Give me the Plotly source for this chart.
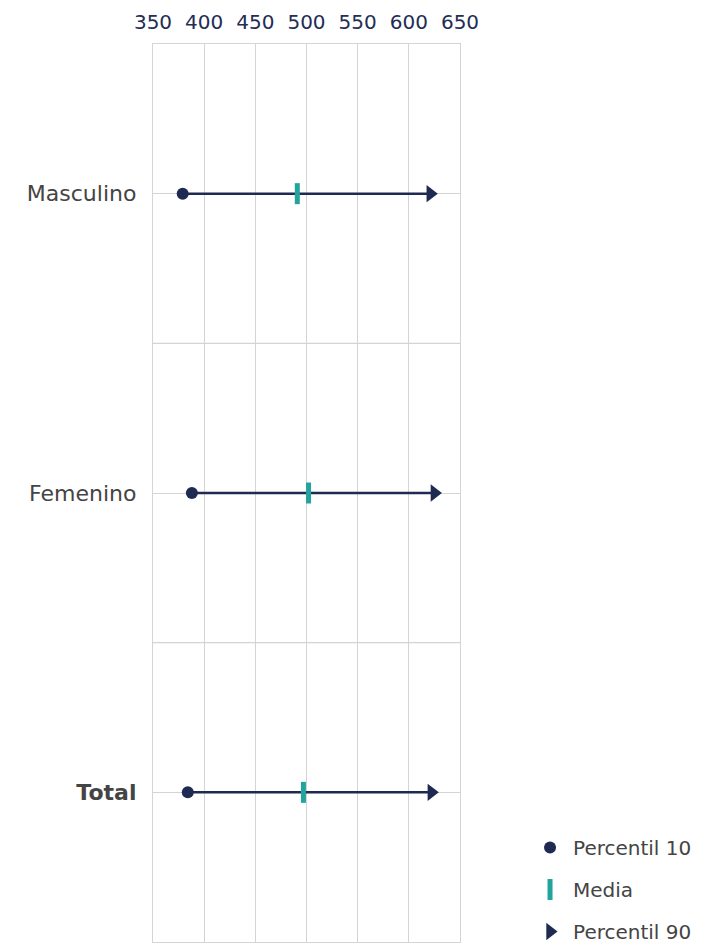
import plotly.graph_objects as go

categories = ["Masculino", "Femenino", "Total"]
tick_labels = ["Masculino", "Femenino", "<b>Total</b>"]
p10 = [379, 388, 384]
media = [491, 502, 497]
p90 = [621, 625, 622]
x_ticks = [350, 400, 450, 500, 550, 600, 650]

NAVY = "#1e2a52"
TEAL = "#22a39e"
GRID = "#d4d4d4"
FONT = "DejaVu Sans"

fig = go.Figure()

# connecting lines
lx, ly = [], []
for c, a, b in zip(categories, p10, p90):
    lx += [a, b, None]
    ly += [c, c, None]
fig.add_trace(go.Scatter(x=lx, y=ly, mode="lines", line=dict(color=NAVY, width=2.5),
                         showlegend=False, hoverinfo="skip"))

fig.add_trace(go.Scatter(x=p10, y=categories, mode="markers", name="Percentil 10",
                         legendgroup="a",
                         marker=dict(symbol="circle", size=12, color=NAVY)))
fig.add_trace(go.Scatter(x=media, y=categories, mode="markers", name="Media",
                         legendgroup="b",
                         marker=dict(symbol="line-ns", size=15, color=TEAL,
                                     line=dict(color=TEAL, width=5))))
fig.add_trace(go.Scatter(x=p90, y=categories, mode="markers", name="Percentil 90",
                         legendgroup="c",
                         marker=dict(symbol="triangle-right", size=15, color=NAVY)))

# band boundaries between categories
for yb in [0.5, 1.5]:
    fig.add_shape(type="line", xref="paper", x0=0, x1=1, yref="y", y0=yb, y1=yb,
                  line=dict(color=GRID, width=1.3), layer="below")

fig.update_layout(
    template="none",
    width=698, height=937,
    margin=dict(l=145, r=246, t=36, b=3),
    plot_bgcolor="white", paper_bgcolor="white",
    font=dict(family=FONT, size=20, color="#444444"),
    legend=dict(xref="container", yref="container",
                x=0.7436, xanchor="left", y=0.1249, yanchor="top",
                font=dict(size=20, color="#444444"), bgcolor="rgba(0,0,0,0)",
                tracegroupgap=13, traceorder="grouped", itemwidth=36),
)
fig.update_xaxes(side="top", range=[350, 650], tickvals=x_ticks,
                 showgrid=True, gridcolor=GRID, gridwidth=1.3,
                 showline=True, linecolor=GRID, linewidth=1.3, mirror=True,
                 zeroline=False, ticks="", ticklabelstandoff=6, automargin=False,
                 tickfont=dict(size=20, color="#232d55", family=FONT))
fig.update_yaxes(type="category", categoryorder="array", categoryarray=categories,
                 range=[2.5, -0.5], tickvals=categories, ticktext=tick_labels,
                 showgrid=True, gridcolor=GRID, gridwidth=1.3,
                 showline=True, linecolor=GRID, linewidth=1.3, mirror=True,
                 zeroline=False, ticks="", ticklabelstandoff=11, automargin=False,
                 tickfont=dict(size=22, color="#444444", family=FONT))

fig.write_html("out.html")
